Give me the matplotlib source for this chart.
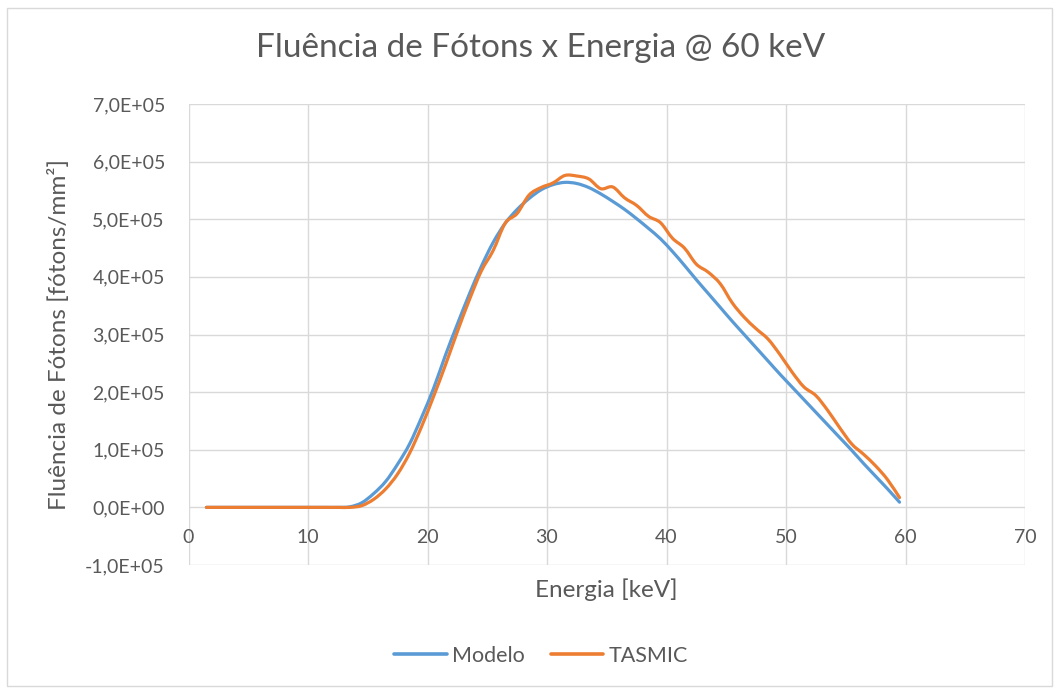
import numpy as np
import matplotlib
matplotlib.use("Agg")
import matplotlib.pyplot as plt
from matplotlib.path import Path
from matplotlib.patches import PathPatch, Rectangle
from matplotlib.lines import Line2D
from matplotlib.ticker import FuncFormatter, MultipleLocator

# Energy bin centres [keV]
energia = np.arange(1.5, 60.0, 1.0)

# Photon fluence per bin, in units of 1e5 photons/mm^2
modelo = [0, 0, 0, 0, 0, 0, 0, 0, 0, 0, 0, 0,
          0.01, 0.08, 0.24, 0.45, 0.75, 1.10, 1.56, 2.06, 2.64, 3.18,
          3.70, 4.18, 4.60, 4.93, 5.17, 5.36, 5.51, 5.60, 5.64, 5.62,
          5.55, 5.44, 5.31, 5.17, 5.01, 4.84, 4.66, 4.44, 4.20, 3.95,
          3.71, 3.47, 3.23, 3.00, 2.77, 2.54, 2.31, 2.09, 1.87, 1.65,
          1.43, 1.21, 0.99, 0.76, 0.54, 0.32, 0.09]
tasmic = [0, 0, 0, 0, 0, 0, 0, 0, 0, 0, 0, 0, 0,
          0.03, 0.14, 0.32, 0.58, 0.94, 1.40, 1.92, 2.47, 3.05, 3.60,
          4.10, 4.46, 4.93, 5.10, 5.42, 5.55, 5.63, 5.76, 5.75, 5.70,
          5.53, 5.56, 5.37, 5.24, 5.05, 4.94, 4.67, 4.50, 4.22, 4.08,
          3.88, 3.55, 3.30, 3.10, 2.92, 2.65, 2.35, 2.09, 1.94, 1.68,
          1.38, 1.10, 0.92, 0.72, 0.48, 0.17]
escala = 1e5

series = [("Modelo", modelo, "#5B9BD5"), ("TASMIC", tasmic, "#ED7D31")]

x_ticks = [0, 10, 20, 30, 40, 50, 60, 70]

FONT = "Lato"
TXT = "#595959"
GRID = "#D9D9D9"


def smooth_path(x, y):
    """Cubic Bezier path through the points (Catmull-Rom style tangents)."""
    pts = np.column_stack([x, y]).astype(float)
    verts = [pts[0]]
    codes = [Path.MOVETO]
    n = len(pts)
    for i in range(n - 1):
        p0 = pts[i - 1] if i > 0 else pts[i]
        p1 = pts[i]
        p2 = pts[i + 1]
        p3 = pts[i + 2] if i + 2 < n else pts[i + 1]
        verts += [p1 + (p2 - p0) / 6.0, p2 - (p3 - p1) / 6.0, p2]
        codes += [Path.CURVE4] * 3
    return Path(verts, codes)


fig = plt.figure(figsize=(10.6, 6.93), dpi=100)
fig.patches.append(Rectangle((7 / 1060, 1 - 686 / 693), 1045 / 1060, 678 / 693,
                             transform=fig.transFigure, fill=False,
                             edgecolor=GRID, linewidth=1.0))

ax = fig.add_axes([188.5 / 1060, 1 - 565 / 693, 836.5 / 1060, 461 / 693])
ax.set_xlim(0, 70)
ax.set_ylim(-1e5, 7e5)

for nome, vals, cor in series:
    ys = np.asarray(vals) * escala
    ax.add_patch(PathPatch(smooth_path(energia, ys), fill=False, edgecolor=cor,
                           linewidth=2.3, capstyle="round", joinstyle="round",
                           transform=ax.transData, zorder=3))

ax.xaxis.set_major_locator(MultipleLocator(10))
ax.yaxis.set_major_locator(MultipleLocator(1e5))
ax.grid(True, color=GRID, linewidth=1.0)
ax.set_axisbelow(True)
for s in ax.spines.values():
    s.set_visible(False)

ax.yaxis.set_major_formatter(FuncFormatter(lambda v, p: f"{v:.1E}".replace(".", ",")))
ax.tick_params(axis="y", length=0, pad=17, labelsize=14, labelcolor=TXT)
for lab in ax.get_yticklabels():
    lab.set_fontfamily(FONT)

# horizontal axis crosses at zero: labels sit just under the zero line
ax.set_xticklabels([])
ax.tick_params(axis="x", length=0)
for xv in x_ticks:
    ax.annotate(str(xv), xy=(xv, 0), xytext=(0, -22), textcoords="offset points",
                ha="center", va="center", fontsize=14, color=TXT, family=FONT)

ax.set_xlabel("Energia [keV]", fontsize=17.5, color=TXT, family=FONT)
ax.xaxis.set_label_coords(0.5, -0.029)
ax.set_ylabel("Fluência de Fótons [fótons/mm²]", fontsize=17.5, color=TXT, family=FONT)
ax.yaxis.set_label_coords(-0.142, 0.5)

fig.text(541 / 1060, 1 - 48 / 693, "Fluência de Fótons x Energia @ 60 keV",
         ha="center", va="center", fontsize=24, color=TXT, family=FONT)

handles = [Line2D([], [], color=c, linewidth=2.6, solid_capstyle="round") for _, _, c in series]
fig.legend(handles, [n for n, _, _ in series], loc="center",
           bbox_to_anchor=(541 / 1060, 1 - 656 / 693), ncol=2, frameon=False,
           handlelength=2.45, handletextpad=0.25, columnspacing=1.2,
           prop={"family": FONT, "size": 15.5}, labelcolor=TXT)

fig.savefig("out.png", dpi=100)
